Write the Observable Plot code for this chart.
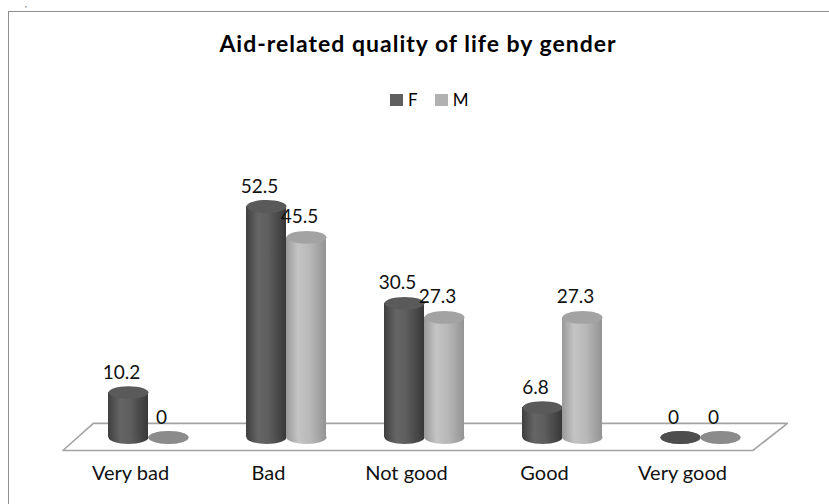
<!DOCTYPE html>
<html><head><meta charset="utf-8">
<script src="https://cdn.jsdelivr.net/npm/d3@7"></script>
<script src="https://cdn.jsdelivr.net/npm/@observablehq/plot@0.6"></script>
<style>
html,body{margin:0;padding:0;background:#fff;overflow:hidden}
#wrap{position:relative;width:829px;height:504px;overflow:hidden;font-family:Lato,"Open Sans",sans-serif;color:#000}
#frame{position:absolute;left:8px;top:11px;width:900px;height:600px;border:1.5px solid #8e8e8e;box-sizing:border-box}
#stray{position:absolute;left:25px;top:0px;font-size:8px;line-height:8px;color:#333}
#title{position:absolute;top:30px;left:0;width:836px;text-align:center;font-weight:bold;font-size:23px;line-height:27.6px;letter-spacing:1px}
#legend{position:absolute;top:91px;left:390px;height:18px;font-size:17px;line-height:18px;display:flex;align-items:center}
#legend .sw{display:inline-block;width:13px;height:12px;margin-right:5px}
#legend .it{display:flex;align-items:center;margin-right:17px}
#chart{position:absolute;left:0;top:0}
</style></head>
<body>
<div id="wrap">
  <div id="stray">,</div>
  <div id="frame"></div>
  <div id="title">Aid-related quality of life by gender</div>
  <div id="legend"></div>
  <div id="chart"></div>
</div>
<script>
const categories = ["Very bad", "Bad", "Not good", "Good", "Very good"];
const genders = ["F", "M"];
const valuesF = [10.2, 52.5, 30.5, 6.8, 0];
const valuesM = [0, 45.5, 27.3, 27.3, 0];

const legendColors = {F: "#5f5f5f", M: "#b1b1b1"};
const topColors = {F: "#5a5a5a", M: "#a3a3a3"};
const zeroColors = {F: "#4d4d4d", M: "#8b8b8b"};
const bodyFill = {F: "url(#gF)", M: "url(#gM)"};

// legend
const leg = document.getElementById("legend");
genders.forEach(g => {
  const it = document.createElement("span");
  it.className = "it";
  it.innerHTML = `<span class="sw" style="background:${legendColors[g]}"></span><span>${g}</span>`;
  leg.appendChild(it);
});

const w = 40 / 138; // bar width in category units
const rows = categories.flatMap((c, i) => [
  {cat: c, i, g: "F", v: valuesF[i], xc: i - w / 2},
  {cat: c, i, g: "M", v: valuesM[i], xc: i + w / 2}
]);

// floor of the 3D plot (in category / value units)
const floor = [
  {x: -0.40, y: 3.2}, {x: 4.63, y: 3.2}, {x: 4.38, y: -2.95}, {x: -0.62, y: -2.95}, {x: -0.40, y: 3.2}
];

const ellipse = k => ({
  draw(ctx, size) {
    const rx = Math.sqrt(size / Math.PI), ry = rx * k, c = 0.5523;
    ctx.moveTo(rx, 0);
    ctx.bezierCurveTo(rx, ry * c, rx * c, ry, 0, ry);
    ctx.bezierCurveTo(-rx * c, ry, -rx, ry * c, -rx, 0);
    ctx.bezierCurveTo(-rx, -ry * c, -rx * c, -ry, 0, -ry);
    ctx.bezierCurveTo(rx * c, -ry, rx, -ry * c, rx, 0);
    ctx.closePath();
  }
});
const ell = ellipse(0.32);

const marks = [Plot.line(floor, {x: "x", y: "y", stroke: "#a3a3a3", strokeWidth: 1.6})];
genders.forEach(g => {
  const data = rows.filter(d => d.g === g);
  marks.push(
    Plot.dot(data, {x: "xc", y: 0, r: 20, symbol: ell, fill: bodyFill[g]}),
    Plot.rect(data, {x1: d => d.xc - w / 2, x2: d => d.xc + w / 2, y1: 0, y2: "v", fill: bodyFill[g]}),
    Plot.dot(data, {x: "xc", y: "v", r: 20, symbol: ell, fill: d => d.v === 0 ? zeroColors[g] : topColors[g]})
  );
});
marks.push(
  Plot.text(rows, {x: "xc", y: "v", text: d => String(d.v), dx: -7, dy: -20, fontSize: 19, fill: "#111", letterSpacing: 0.3}),
  Plot.text(categories, {x: (d, i) => i, text: d => d, frameAnchor: "bottom", dy: 42, dx: -18, fontSize: 20, fill: "#111", letterSpacing: 1.2})
);

const svg = Plot.plot({
  width: 829,
  height: 504,
  marginLeft: 148,
  marginRight: 129,
  marginTop: 173,
  marginBottom: 67,
  x: {domain: [0, 4], axis: null},
  y: {domain: [0, 60], axis: null},
  color: {type: "identity"},
  style: {background: "transparent", fontFamily: "Lato, 'Open Sans', sans-serif", overflow: "visible"},
  marks
});

const defs = d3.select(svg).insert("defs", ":first-child");
const grad = (id, stops) => {
  const lg = defs.append("linearGradient").attr("id", id).attr("x1", 0).attr("x2", 1).attr("y1", 0).attr("y2", 0);
  stops.forEach(([o, c]) => lg.append("stop").attr("offset", o).attr("stop-color", c));
};
grad("gF", [[0, "#3f3f3f"], [0.3, "#656565"], [0.55, "#5e5e5e"], [1, "#383838"]]);
grad("gM", [[0, "#999999"], [0.3, "#c4c4c4"], [0.6, "#b8b8b8"], [1, "#939393"]]);

document.getElementById("chart").appendChild(svg);
</script>
</body></html>
